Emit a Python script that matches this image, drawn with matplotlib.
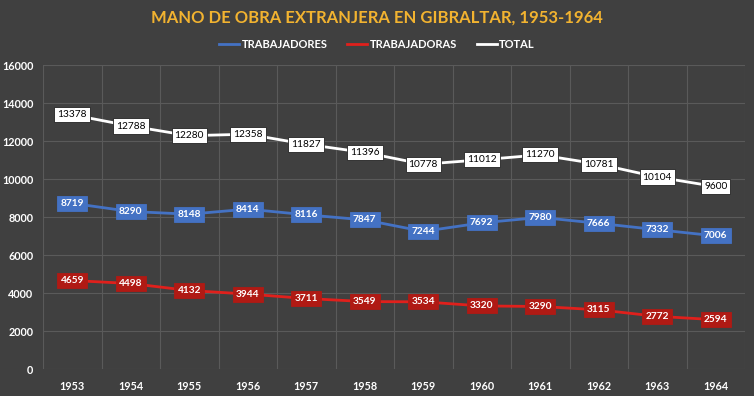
import matplotlib.pyplot as plt
from matplotlib.lines import Line2D

years = ['1953', '1954', '1955', '1956', '1957', '1958', '1959', '1960', '1961', '1962', '1963', '1964']
trabajadores = [8719, 8290, 8148, 8414, 8116, 7847, 7244, 7692, 7980, 7666, 7332, 7006]
trabajadoras = [4659, 4498, 4132, 3944, 3711, 3549, 3534, 3320, 3290, 3115, 2772, 2594]
total = [13378, 12788, 12280, 12358, 11827, 11396, 10778, 11012, 11270, 10781, 10104, 9600]

BG = '#404040'
GRID = '#5a5a5a'
BLUE = '#4472C4'
RED = '#E0201C'
RED_BOX = '#B01A14'

plt.rcParams['font.family'] = ['Lato', 'DejaVu Sans']

fig = plt.figure(figsize=(7.54, 3.96), dpi=100, facecolor=BG)
ax = fig.add_axes([43 / 754, 27 / 396, 702 / 754, 304 / 396])
ax.set_facecolor(BG)

x = list(range(len(years)))
series = [
    (trabajadores, BLUE, BLUE, 'white', 'TRABAJADORES'),
    (trabajadoras, RED, RED_BOX, 'white', 'TRABAJADORAS'),
    (total, 'white', 'white', 'black', 'TOTAL'),
]
for vals, lc, boxc, txtc, name in series:
    ax.plot(x, vals, color=lc, lw=2, zorder=3)
    for xi, v in zip(x, vals):
        ax.text(xi, v, str(v), ha='center', va='center', fontsize=7.3,
                fontweight='bold' if txtc == 'white' else 'normal', color=txtc, zorder=4,
                bbox=dict(boxstyle='square,pad=0.3', fc=boxc,
                          ec='#222222' if boxc == 'white' else boxc, lw=0.6))

ax.set_xlim(-0.5, len(years) - 0.5)
ax.set_ylim(0, 16000)
ax.set_yticks(range(0, 16001, 2000))
ax.set_xticks(x)
ax.set_xticklabels(years)
ax.set_xticks([i - 0.5 for i in range(len(years) + 1)], minor=True)
ax.grid(axis='y', which='major', color=GRID, lw=0.8)
ax.grid(axis='x', which='minor', color=GRID, lw=0.8)
ax.tick_params(which='both', length=0, colors='white', labelsize=7.8)
ax.tick_params(axis='y', pad=7)
ax.tick_params(axis='x', pad=9)
for lab in ax.get_xticklabels() + ax.get_yticklabels():
    lab.set_fontweight('bold')
for s in ax.spines.values():
    s.set_visible(False)

fig.text(0.5, 0.955, 'MANO DE OBRA EXTRANJERA EN GIBRALTAR, 1953-1964',
         ha='center', va='center', color='#F2B330', fontsize=12, fontweight='bold')

handles = [Line2D([], [], color=c, lw=2) for c in (BLUE, RED, 'white')]
leg = fig.legend(handles, ['TRABAJADORES', 'TRABAJADORAS', 'TOTAL'], loc='center',
                 bbox_to_anchor=(0.5, 0.887), ncol=3, frameon=False,
                 prop={'weight': 'bold', 'size': 8},
                 handlelength=1.8, handletextpad=0.2, columnspacing=1.8, labelcolor='white')

fig.savefig('out.png', dpi=100, facecolor=BG)
